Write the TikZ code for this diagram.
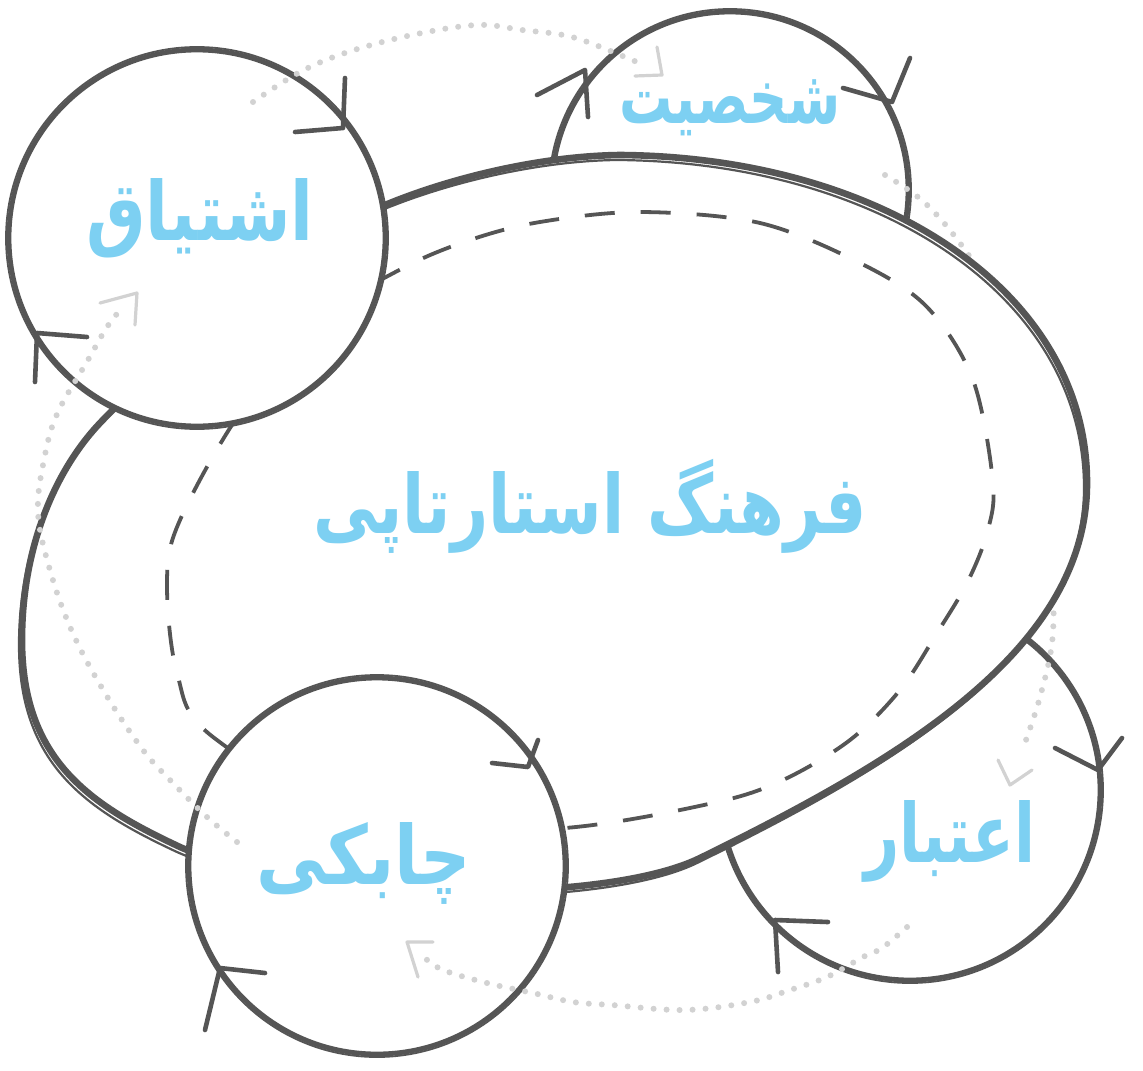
\documentclass[tikz,border=0pt]{standalone}
\usepackage{fontspec}
\newfontfamily\arabicfont[Script=Arabic]{DejaVu Sans}
\TeXXeTstate=1
\definecolor{ink}{HTML}{555555}
\definecolor{faint}{HTML}{D2D2D2}
\definecolor{skyblue}{HTML}{7DD0F2}
\newcommand\outershape{(620,155) .. controls (880,157) and (1087,290) .. (1087,483)
  .. controls (1087,650) and (900,760) .. (700,858)
  .. controls (600,907) and (300,900) .. (180,847)
  .. controls (90,805) and (22,760) .. (22,640)
  .. controls (22,540) and (60,465) .. (100,423)
  .. controls (150,370) and (300,240) .. (385,205)
  .. controls (450,178) and (540,156) .. cycle}
\tikzset{
  ring/.style={draw=ink, line width=2.4pt, fill=white},
  ringthin/.style={draw=ink, line width=0.9pt},
  blob/.style={draw=ink, line width=3.3pt, fill=white},
  blobthin/.style={draw=ink, line width=1.1pt},
  dashring/.style={draw=ink, line width=1.9pt, dash pattern=on 15pt off 13pt},
  chev/.style={draw=ink, line width=2.3pt, line cap=round, line join=round},
  dotted path/.style={draw=faint, line width=3pt, line cap=round, dash pattern=on 0pt off 6.5pt},
  faintchev/.style={draw=faint, line width=1.6pt, line cap=round, line join=round},
  lbl/.style={text=skyblue, font=\arabicfont\bfseries\fontsize{34}{40}\selectfont, inner sep=0pt}
}
\begin{document}
\begin{tikzpicture}[x=0.5pt,y=-0.5pt]
\useasboundingbox (0,0) rectangle (1143,1070);
\fill[white] (0,0) rectangle (1143,1070);

% centres of the four circles
\coordinate (cTop) at (730,190);
\coordinate (cRight) at (910,790);
\coordinate (cLeft) at (197,238);
\coordinate (cBottom) at (377,866);

% circles behind the central shape
\draw[ring] (cTop) circle[radius=178];
\draw[ringthin,shift={(3,-3)}] (cTop) circle[radius=181];
\draw[ring] (cRight) circle[radius=190];
\draw[ringthin,shift={(-3,3)}] (cRight) circle[radius=193];

% faint arrow 2 (partly hidden by the central shape)
\draw[dotted path] plot[smooth, tension=0.6] coordinates {(885,175) (925,203) (965,250) (1005,315) (1040,400) (1056,500) (1054,580) (1052,643) (1040,697) (1026,740)};
\coordinate (f2) at (1010,785);
\draw[faintchev] (998,760) -- (f2) -- (1032,770);

% central shape
\draw[blob] \outershape;
\draw[blobthin, shift={(-3,5)}] \outershape;

% dashed inner ring
\draw[dashring] plot[smooth cycle, tension=0.55] coordinates {(640,212) (760,223) (860,263) (927,307) (973,380) (993,483) (987,533) (967,583) (937,633) (900,690) (850,740) (783,780) (713,803) (565,828) (380,830) (213,737) (177,673) (167,580) (180,520) (240,413) (320,320) (403,268) (470,240) (540,222)};

% circles in front of the central shape
\draw[ring] (cLeft) circle[radius=188];
\draw[ringthin,shift={(-3,3)}] (cLeft) circle[radius=191];
\draw[ring] (cBottom) circle[radius=188];
\draw[ringthin,shift={(3,2)}] (cBottom) circle[radius=191];

% arrowheads on the circles
\draw[chev] (295,132) -- (343,128) -- (345,78);
\draw[chev] (87,337) -- (37,333) -- (35,382);
\draw[chev] (537,95) -- (585,70) -- (588,117);
\draw[chev] (843,88) -- (892,102) -- (910,58);
\draw[chev] (1055,748) -- (1098,770) -- (1122,738);
\draw[chev] (828,922) -- (775,920) -- (778,972);
\draw[chev] (492,763) -- (528,767) -- (538,740);
\draw[chev] (265,973) -- (220,968) -- (205,1030);

% faint arrow 1 (top)
\draw[dotted path] plot[smooth, tension=0.6] coordinates {(253,102) (300,72) (348,52) (412,35) (477,25) (522,30) (572,37) (625,57) (645,66)};
\coordinate (f1) at (662,75);
\draw[faintchev] (657,47) -- (f1) -- (635,76);

% faint arrow 3 (bottom)
\draw[dotted path] plot[smooth, tension=0.6] coordinates {(907,927) (882,948) (863,957) (827,977) (790,990) (750,1002) (685,1010) (612,1005) (573,1002) (533,993) (487,983) (443,970) (425,958)};
\coordinate (f3) at (407,942);
\draw[faintchev] (433,942) -- (f3) -- (418,977);

% faint arrow 4 (left)
\draw[dotted path] plot[smooth, tension=0.6] coordinates {(237,842) (207,817) (170,780) (143,750) (108,698) (75,638) (52,577) (38,513) (45,455) (58,412) (88,360) (107,327) (122,308)};
\coordinate (f4) at (137,293);
\draw[faintchev] (100,303) -- (f4) -- (135,325);

% labels
\node[lbl, xscale=0.95, yscale=1.2] (main) at (590,506) {\beginR فرهنگ استارتاپی\endR};
\node[lbl, xscale=0.98, yscale=1.2] (lEager) at (200,218) {\beginR اشتیاق\endR};
\node[lbl, xscale=0.78, yscale=1.1] (lPers) at (730,108) {\beginR شخصیت\endR};
\node[lbl, xscale=0.9, yscale=1.2] (lCred) at (950,841) {\beginR اعتبار\endR};
\node[lbl, xscale=1.03, yscale=1.2] (lAgile) at (364,863) {\beginR چابکی\endR};
\end{tikzpicture}
\end{document}
